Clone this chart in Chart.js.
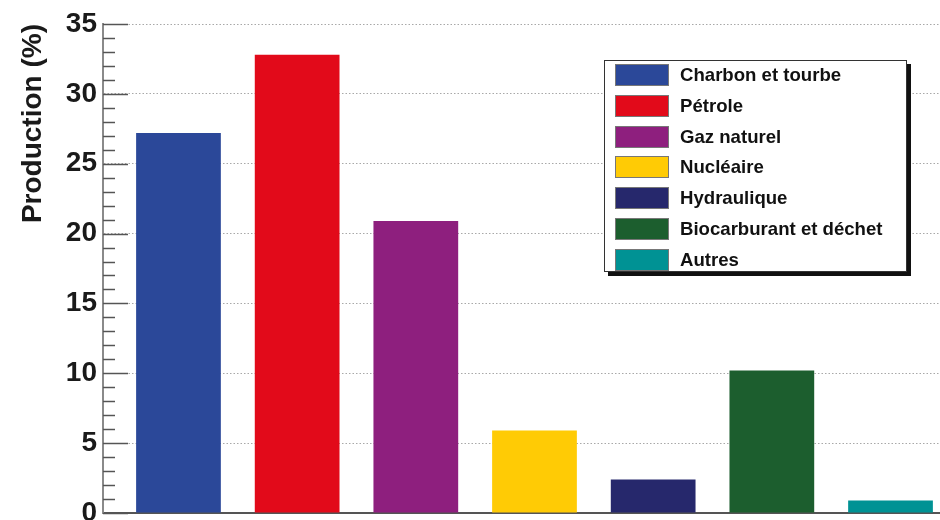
<!DOCTYPE html>
<html>
<head>
<meta charset="utf-8">
<script src="https://cdn.jsdelivr.net/npm/chart.js@4.4.1/dist/chart.umd.min.js"></script>
<style>
  body { margin: 0; background: #fff; }
  #wrap { position: relative; width: 940px; height: 520px; overflow: hidden; }
  #legend {
    position: absolute; left: 604px; top: 60px; width: 301px; height: 210px;
    border: 1px solid #333; background: #fff; box-shadow: 4px 4px 0 #111;
    font-family: "Liberation Sans", Arial, sans-serif; font-weight: bold; font-size: 18.6px; color: #111;
  }
  .row { position: absolute; left: 10px; height: 22px; display: flex; align-items: center; }
  .sw { width: 52px; height: 20px; border: 1px solid #777; margin-right: 11px; }
</style>
</head>
<body>
<div id="wrap">
  <canvas id="chart" width="940" height="520"></canvas>
  <div id="legend"></div>
</div>
<script>
// energy sources and their share of production (%)
const categories = ['Charbon et tourbe', 'Pétrole', 'Gaz naturel', 'Nucléaire', 'Hydraulique', 'Biocarburant et déchet', 'Autres'];
const production = [27.2, 32.8, 20.9, 5.9, 2.4, 10.2, 0.9];
const colors = ['#2b4899', '#e20a1a', '#8e1f7e', '#ffcb05', '#26286c', '#1c5e2e', '#009294'];
const yTicks = [0, 5, 10, 15, 20, 25, 30, 35];

// inner tick marks like the original plot
const innerTicks = {
    id: 'innerTicks',
    afterDatasetsDraw(chart) {
        const y = chart.scales.y;
        const left = chart.chartArea.left;
        const ctx = chart.ctx;
        ctx.save();
        ctx.strokeStyle = '#555';
        ctx.lineWidth = 1.5;
        for (let v = y.min; v <= y.max; v++) {
            const py = Math.round(y.getPixelForValue(v)) + 0.5;
            const len = yTicks.includes(v) ? 25 : 12;
            ctx.beginPath();
            ctx.moveTo(left, py);
            ctx.lineTo(left + len, py);
            ctx.stroke();
        }
        ctx.restore();
    }
};

const legendBox = document.getElementById('legend');
categories.forEach((name, i) => {
    const row = document.createElement('div');
    row.className = 'row';
    row.style.top = (3 + i * 30.8) + 'px';
    row.innerHTML = '<div class="sw" style="background:' + colors[i] + '"></div><span>' + name + '</span>';
    legendBox.appendChild(row);
});

new Chart(document.getElementById('chart'), {
    type: 'bar',
    data: {
        datasets: [{
            label: 'Production',
            data: production.map((v, i) => ({ x: i, y: v })),
            backgroundColor: colors,
            borderWidth: 0,
            barPercentage: 0.714,
            categoryPercentage: 1
        }]
    },
    options: {
        responsive: false,
        animation: false,
        layout: { padding: { top: 24, right: 0, bottom: 0, left: 0 } },
        plugins: { legend: { display: false }, tooltip: { enabled: false } },
        scales: {
            x: {
                type: 'linear',
                offset: false,
                min: -0.636,
                max: 6.417,
                afterBuildTicks: scale => { scale.ticks = categories.map((c, i) => ({ value: i })); },
                afterFit: scale => { scale.height = 7; scale.paddingLeft = 0; scale.paddingRight = 0; },
                ticks: { display: false },
                grid: { display: false },
                border: { display: true, color: '#555', width: 2 }
            },
            y: {
                min: 0,
                max: 35,
                afterFit: scale => { scale.width = 103; scale.paddingBottom = 0; },
                ticks: {
                    stepSize: 1,
                    autoSkip: false,
                    padding: 6,
                    color: '#1a1a1a',
                    font: { family: 'Liberation Sans', weight: 'bold', size: 28 },
                    callback: v => yTicks.includes(v) ? v : ''
                },
                grid: {
                    drawTicks: false,
                    color: c => yTicks.includes(c.tick.value) ? '#a8a8a8' : 'rgba(0,0,0,0)',
                    lineWidth: 1
                },
                border: { display: true, color: '#8a8a8a', width: 2, dash: [1.5, 2] },
                title: {
                    display: true,
                    text: 'Production (%)',
                    align: 'end',
                    color: '#1a1a1a',
                    font: { family: 'Liberation Sans', weight: 'bold', size: 28 },
                    padding: { top: 16, bottom: 0 }
                }
            }
        }
    },
    plugins: [innerTicks]
});
</script>
</body>
</html>
